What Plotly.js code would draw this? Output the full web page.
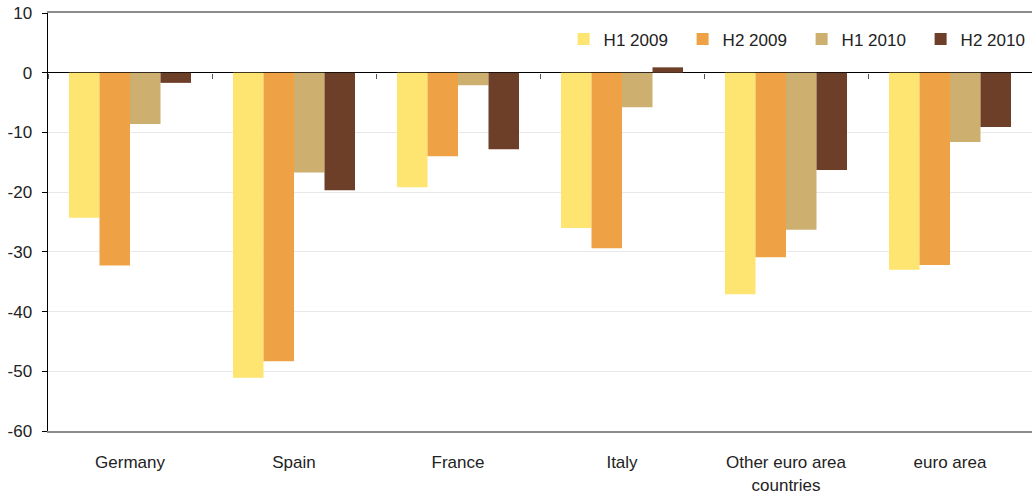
<!DOCTYPE html>
<html><head><meta charset="utf-8">
<script src="https://cdn.plot.ly/plotly-3.0.1.min.js"></script>
<style>html,body{margin:0;padding:0;background:#fff}#chart{width:1032px;height:496px}</style>
</head><body><div id="chart"></div>
<script>
const categories = ["Germany", "Spain", "France", "Italy", "Other euro area<br>countries", "euro area"];
const seriesNames = ["H1 2009", "H2 2009", "H1 2010", "H2 2010"];
const h1_2009 = [-24.3, -51.1, -19.2, -26.0, -37.1, -33.0];
const h2_2009 = [-32.3, -48.3, -14.0, -29.4, -30.9, -32.2];
const h1_2010 = [-8.6, -16.7, -2.1, -5.8, -26.3, -11.6];
const h2_2010 = [-1.7, -19.7, -12.8, 0.9, -16.3, -9.1];
const colors = ["#FEE572", "#EFA245", "#CDAF6F", "#6D3F29"];
const yTicks = [10, 0, -10, -20, -30, -40, -50, -60];

const allSeries = [h1_2009, h2_2009, h1_2010, h2_2010];
const traces = allSeries.map((vals, i) => ({
  type: "bar", name: seriesNames[i], x: categories, y: vals,
  marker: {color: colors[i], line: {width: 0}}, hoverinfo: "x+y+name"
}));
// helper trace to carry the tick marks on the zero line
traces.push({type: "scatter", mode: "none", x: categories, y: categories.map(() => null),
  xaxis: "x2", yaxis: "y", showlegend: false, hoverinfo: "skip"});

const layout = {
  width: 1032, height: 496,
  margin: {l: 48, r: 0, t: 13, b: 65, autoexpand: false},
  paper_bgcolor: "#fff", plot_bgcolor: "#fff",
  font: {family: "Liberation Sans, Arial, sans-serif", color: "#222"},
  barmode: "group", bargap: 0.256, bargroupgap: 0,
  showlegend: true,
  legend: {orientation: "h", x: 0.524, xanchor: "left", y: 0.98, yanchor: "top",
    font: {size: 17, color: "#222"}, bgcolor: "rgba(0,0,0,0)", entrywidth: 74, traceorder: "normal"},
  xaxis: {type: "category", showline: true, linecolor: "#8c8c8c", linewidth: 2, mirror: true,
    ticks: "", tickfont: {size: 17, color: "#222"}, ticklabelstandoff: 15, showgrid: false, fixedrange: true},
  xaxis2: {type: "category", overlaying: "x", matches: "x", anchor: "free", position: 60/70, side: "bottom",
    showline: false, ticks: "outside", ticklen: 5, tickcolor: "#555", tickwidth: 1, tickson: "boundaries",
    showticklabels: false, showgrid: false, fixedrange: true},
  yaxis: {range: [-60, 10], tickvals: yTicks, ticktext: yTicks.map(String),
    showline: true, linecolor: "#000", linewidth: 1.5, ticks: "outside", ticklen: 5, tickcolor: "#000",
    gridcolor: "#e8e8e8", gridwidth: 1, zeroline: true, zerolinecolor: "#000", zerolinewidth: 1.2,
    tickfont: {size: 17, color: "#222"}, ticklabelstandoff: 6, fixedrange: true}
};
Plotly.newPlot("chart", traces, layout, {displayModeBar: false, staticPlot: true});
</script></body></html>
